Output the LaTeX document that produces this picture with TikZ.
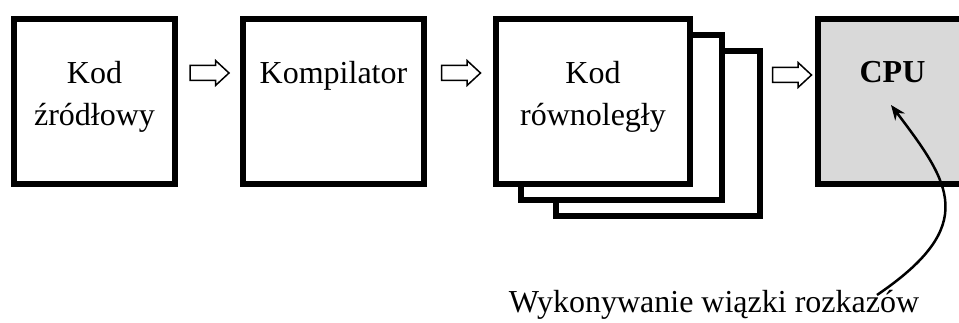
\documentclass[tikz,border=0pt]{standalone}
\usepackage{fontspec}
\setmainfont{Liberation Serif}
\usetikzlibrary{arrows.meta}
\definecolor{cpugray}{HTML}{D9D9D9}

\begin{document}
\begin{tikzpicture}[x=1pt,y=1pt,
box/.style={draw,line width=6pt,minimum width=#1,minimum height=165pt,inner sep=0pt},
flow/.style={draw,line width=1.5pt,line join=miter},
txt/.style={anchor=north,inner sep=0pt,align=center,font=\fontsize{32}{42}\selectfont}]
\useasboundingbox (0,0) rectangle (959,323);
\clip (0,0) rectangle (959,323);
% boxes
\node[box=161pt] (src) at (94.5,221.5) {};
\node[box=181pt] (comp) at (333.5,221.5) {};
\node[box=204pt,fill=white] (par3) at (658,189.5) {};
\node[box=201pt,fill=white] (par2) at (621.5,205.5) {};
\node[box=194pt,fill=white] (par) at (593,221.5) {};
\node[box=150pt,fill=cpugray] (cpu) at (893,221.5) {};
% labels
\node[txt] (srcl) at (94.5,262) {Kod\\źródłowy};
\node[txt] (compl) at (333.5,262) {Kompilator};
\node[txt] (parl) at (593,262) {Kod\\równoległy};
\node[txt,font=\fontsize{32}{42}\selectfont\bfseries] (cpul) at (892.5,262) {CPU};
% flow arrows
\foreach \x/\y in {209.5/250, 461/250, 792/248}
  \draw[flow] (\x,\y) ++(-19.5,7.5) -- ++(25.5,0) -- ++(0,5) -- ++(13.5,-12.5)
    -- ++(-13.5,-12.5) -- ++(0,5) -- ++(-25.5,0) -- cycle;
% execution
\node[anchor=base,inner sep=0pt,font=\fontsize{32}{42}\selectfont] (exec) at (714,10) {Wykonywanie wiązki rozkazów};
\coordinate (from) at (877,28);
\coordinate (tip) at (891,218);
\draw[line width=2.5pt,-{Stealth[length=15pt,width=12pt]}] (from) .. controls (980,98) and (950,140) .. (tip);
\end{tikzpicture}
\end{document}
